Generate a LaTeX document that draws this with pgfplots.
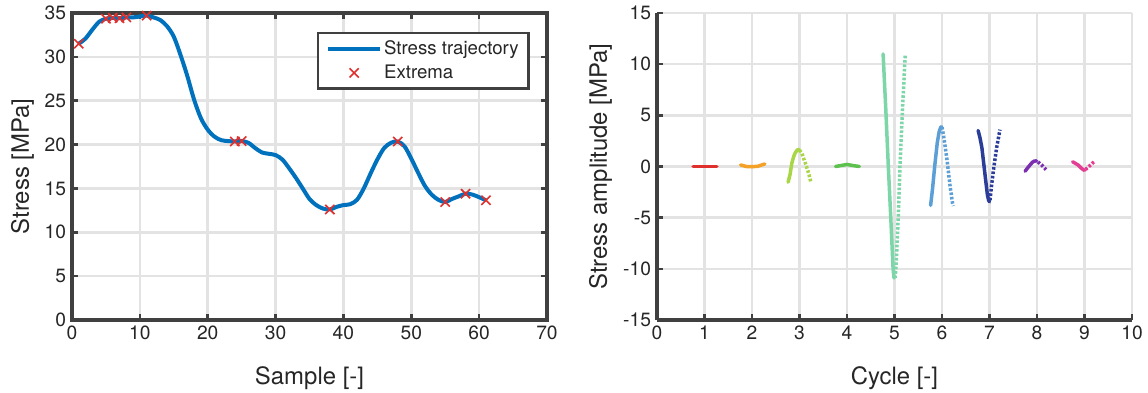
\documentclass[border=0pt]{standalone}
\usepackage{fontspec}
\setmainfont{TeX Gyre Heros}
\usepackage{pgfplots}
\pgfplotsset{compat=1.18}

\definecolor{axgray}{HTML}{404040}
\definecolor{txtgray}{HTML}{262626}
\definecolor{gridgray}{HTML}{E3E3E3}
\definecolor{trajblue}{HTML}{0072BD}
\definecolor{xred}{HTML}{E0302D}
\definecolor{c1}{HTML}{E0302D}
\definecolor{c2}{HTML}{F4A128}
\definecolor{c3}{HTML}{A9D646}
\definecolor{c4}{HTML}{5DC24D}
\definecolor{c5}{HTML}{7CD6A8}
\definecolor{c6}{HTML}{5B9FD6}
\definecolor{c7}{HTML}{2B3D98}
\definecolor{c8}{HTML}{7B2FB0}
\definecolor{c9}{HTML}{E33E93}

\pgfplotsset{
  panel/.style={
    scale only axis, width=475bp, height=307bp,
    axis line style={axgray, line width=3.5bp, -},
    tick style={axgray, line width=2.5bp},
    major tick length=6bp, tick align=inside,
    grid=major, major grid style={gridgray, line width=2.5bp},
    ticklabel style={font=\fontsize{19.3}{23}\selectfont, text=txtgray},
    label style={font=\fontsize{24}{28}\selectfont, text=txtgray},
    /pgf/number format/assume math mode=true,
    xticklabel style={yshift=-2.5bp},
    yticklabel style={xshift=-2.5bp},
  },
  amp/.style={line width=3.5bp, line cap=round},
  ampdot/.style={line width=3.5bp, line cap=butt, dash pattern=on 2.6bp off 1.8bp},
}

\begin{document}
\begin{tikzpicture}
\path[use as bounding box] (-72bp,-73bp) rectangle (1076bp,320bp);

% Stress history with its turning points
\begin{axis}[panel, at={(0,0)}, anchor=south west,
  xmin=0, xmax=70, ymin=0, ymax=35,
  xtick={0,10,...,70}, ytick={0,5,...,35},
  xlabel={Sample [-]}, ylabel={Stress [MPa]},
  xlabel style={at={(axis description cs:0.5,-0.19)}, anchor=center},
  ylabel style={at={(axis description cs:-0.104,0.5)}, anchor=center},
  clip=false,
  legend style={at={(0.964,0.939)}, anchor=north east, draw=axgray,
    line width=2.5bp, font=\fontsize{18.7}{22}\selectfont, text=txtgray,
    inner xsep=8bp, inner ysep=6bp, row sep=5bp, cells={anchor=west}},
  legend image code/.code={\draw[mark repeat=2, mark phase=2, #1]
    plot coordinates {(0bp,0bp) (26bp,0bp) (52bp,0bp)};},
]
\addplot[trajblue, line width=4bp, smooth, tension=0.5] coordinates {
 (1,31.5) (2,32.1) (3,33.1) (4,34.0) (5,34.35) (6,34.45) (7,34.4) (8,34.5)
 (9,34.5) (10,34.6) (11,34.7) (12,34.5) (13,34.2) (14,33.5) (15,32.3)
 (16,30.2) (17,27.8) (18,25.1) (19,23.0) (20,21.7) (21,20.9) (22,20.5)
 (23,20.4) (24,20.35) (25,20.4) (26,20.2) (27,19.6) (28,19.1) (29,18.95)
 (30,18.8) (31,18.3) (32,17.3) (33,16.2) (34,15.0) (35,13.8) (36,13.1)
 (37,12.7) (38,12.6) (39,12.9) (40,13.1) (41,13.2) (42,13.7) (43,15.0)
 (44,16.7) (45,18.3) (46,19.6) (47,20.2) (48,20.35) (49,19.8) (50,18.4)
 (51,16.8) (52,15.3) (53,14.3) (54,13.7) (55,13.45) (56,13.8) (57,14.1)
 (58,14.4) (59,14.3) (60,14.0) (61,13.65)
};
\addlegendentry{Stress trajectory}
\addplot[only marks, mark=x, mark size=6.5bp, xred, mark options={line width=1.6bp}] coordinates {
 (1,31.5) (5,34.35) (6,34.45) (7,34.4) (8,34.5) (11,34.7) (24,20.35)
 (25,20.4) (38,12.6) (48,20.35) (55,13.45) (58,14.4) (61,13.65)
};
\addlegendentry{Extrema}
\end{axis}

% Half-cycle amplitudes: rising branch solid, falling branch dotted
\begin{axis}[panel, at={(585bp,0)}, anchor=south west,
  axis x line*=bottom, axis y line*=left,
  xmin=0, xmax=10, ymin=-15, ymax=15,
  xtick={0,1,...,10}, ytick={-15,-10,...,15},
  xlabel={Cycle [-]}, ylabel={Stress amplitude [MPa]},
  xlabel style={at={(axis description cs:0.5,-0.19)}, anchor=center},
  ylabel style={at={(axis description cs:-0.119,0.5)}, anchor=center},
]
\addplot[c1, amp] coordinates {(0.76,0) (1.0,0)};
\addplot[c1, amp] coordinates {(1.0,0) (1.26,0)};
\addplot[c2, amp] coordinates {(1.76,0.15) (1.88,0.0) (2.0,-0.02)};
\addplot[c2, amp] coordinates {(2.0,-0.02) (2.12,0.02) (2.27,0.25)};
\addplot[c3, amp] coordinates {(2.76,-1.53) (2.80,-0.8) (2.84,0.36) (2.88,1.0) (2.91,1.34) (2.95,1.6) (2.99,1.66)};
\addplot[c3, ampdot] coordinates {(3.0,1.6) (3.05,1.3) (3.12,0.36) (3.19,-0.62) (3.24,-1.53)};
\addplot[c4, amp] coordinates {(3.76,0) (3.88,0.1) (4.0,0.2)};
\addplot[c4, amp] coordinates {(4.0,0.2) (4.12,0.1) (4.26,0)};
\addplot[c5, amp] coordinates {(4.76,11.0) (4.82,5.25) (4.87,0.0) (4.92,-4.86) (4.97,-10.0) (4.99,-10.9)};
\addplot[c5, ampdot] coordinates {(5.01,-10.9) (5.03,-10.0) (5.08,-4.86) (5.115,0) (5.165,5.25) (5.225,10.85)};
\addplot[c6, amp] coordinates {(5.76,-3.8) (5.80,-2.2) (5.85,0.2) (5.90,2.3) (5.94,3.4) (5.97,3.8) (5.99,3.9)};
\addplot[c6, ampdot] coordinates {(6.0,3.85) (6.04,2.8) (6.1,0.85) (6.17,-1.9) (6.22,-3.55) (6.24,-3.85)};
\addplot[c7, amp] coordinates {(6.76,3.52) (6.80,2.8) (6.84,1.83) (6.905,-0.78) (6.955,-2.74) (6.98,-3.3) (7.0,-3.45)};
\addplot[c7, ampdot] coordinates {(7.01,-3.3) (7.04,-2.0) (7.08,-0.46) (7.15,1.83) (7.22,3.6)};
\addplot[c8, amp] coordinates {(7.75,-0.46) (7.80,-0.15) (7.85,0.13) (7.90,0.4) (7.94,0.52) (7.99,0.55)};
\addplot[c8, ampdot] coordinates {(8.02,0.45) (8.1,0.13) (8.19,-0.3)};
\addplot[c9, amp] coordinates {(8.75,0.46) (8.81,0.3) (8.87,0.13) (8.93,-0.15) (8.97,-0.3) (9.0,-0.38)};
\addplot[c9, ampdot] coordinates {(9.02,-0.3) (9.1,0.03) (9.2,0.46)};
\end{axis}
\end{tikzpicture}
\end{document}
